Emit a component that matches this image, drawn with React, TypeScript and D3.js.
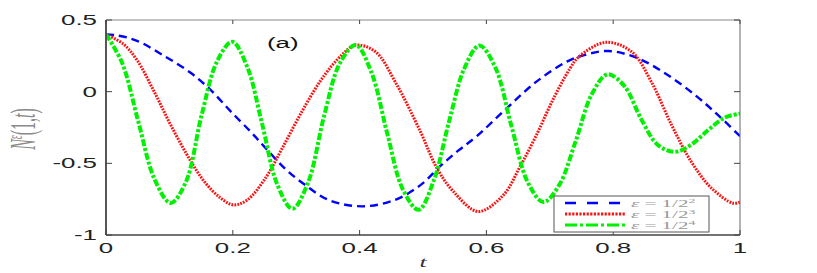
import React, { useRef, useEffect } from 'react';
import * as d3 from 'd3';

// values, as [t, N] pairs
const blueSeries: [number, number][] = [
  [0, 0.4], [0.018, 0.392], [0.049, 0.355], [0.0915, 0.25], [0.134, 0.13],
  [0.165, 0.012], [0.197, -0.139], [0.228, -0.279], [0.25, -0.385], [0.283, -0.54],
  [0.314, -0.65], [0.351, -0.755], [0.404, -0.8], [0.456, -0.755], [0.498, -0.645],
  [0.527, -0.52], [0.556, -0.41], [0.585, -0.31], [0.632, -0.116], [0.679, 0.07],
  [0.727, 0.21], [0.75, 0.25], [0.792, 0.284], [0.839, 0.233], [0.886, 0.116],
  [0.929, -0.023], [0.965, -0.162], [1.0, -0.31],
];

const redSeries: [number, number][] = [
  [0, 0.4], [0.028, 0.33], [0.049, 0.22], [0.076, 0.0], [0.102, -0.232],
  [0.1325, -0.476], [0.155, -0.627], [0.181, -0.743], [0.201, -0.79], [0.223, -0.755],
  [0.252, -0.6], [0.278, -0.394], [0.309, -0.139], [0.341, 0.093], [0.372, 0.256],
  [0.394, 0.325], [0.425, 0.279], [0.456, 0.07], [0.495, -0.27],
  [0.522, -0.534], [0.548, -0.697], [0.587, -0.836], [0.627, -0.72], [0.653, -0.523],
  [0.679, -0.302], [0.706, -0.046], [0.732, 0.163], [0.745, 0.24], [0.788, 0.344],
  [0.829, 0.279], [0.86, 0.07], [0.892, -0.232], [0.923, -0.488], [0.955, -0.673],
  [0.989, -0.778], [1.0, -0.77],
];

const greenSeries: [number, number][] = [
  [0, 0.4], [0.0255, 0.2], [0.051, -0.21], [0.0765, -0.61], [0.102, -0.776],
  [0.126, -0.63], [0.1505, -0.17], [0.175, 0.21], [0.199, 0.348],
  [0.223, 0.17], [0.2465, -0.23], [0.27, -0.646], [0.294, -0.817],
  [0.319, -0.63], [0.344, -0.17], [0.369, 0.2], [0.394, 0.325],
  [0.419, 0.13], [0.4435, -0.29], [0.468, -0.68], [0.493, -0.824],
  [0.517, -0.62], [0.541, -0.21], [0.565, 0.16], [0.589, 0.322],
  [0.614, 0.17], [0.6395, -0.24], [0.665, -0.63], [0.69, -0.77],
  [0.715, -0.65], [0.7405, -0.35], [0.766, -0.02], [0.791, 0.121],
  [0.8175, 0.04], [0.844, -0.19], [0.87, -0.37], [0.897, -0.42],
  [0.923, -0.37], [0.95, -0.267], [0.976, -0.181], [1.0, -0.153],
];

const xTicks = [0, 0.2, 0.4, 0.6, 0.8, 1];
const xTickLabels = ['0', '0.2', '0.4', '0.6', '0.8', '1'];
const yTicks = [0.5, 0, -0.5, -1];
const yTickLabels = ['0.5', '0', '-0.5', '-1'];
const legendExponents = ['2', '3', '4'];

const W = 817;
const H = 273;
const STRETCH = 1.85; // the source figure is stretched horizontally

const App = () => {
  const svgRef = useRef<SVGSVGElement>(null);

  useEffect(() => {
    if (!svgRef.current) return;
    const svg = d3.select(svgRef.current);
    svg.selectAll('*').remove();

    const left = 106, right = 740, top = 20, bottom = 235;
    const x = d3.scaleLinear().domain([0, 1]).range([left, right]);
    const y = d3.scaleLinear().domain([-1, 0.5]).range([bottom, top]);

    svg.append('rect').attr('width', W).attr('height', H).attr('fill', '#fff');

    const series = [
      { data: blueSeries, color: '#0000ff', width: 2.4, dash: '8,5', legendDash: '11,11' },
      { data: redSeries, color: '#ff1010', width: 3, dash: '1.8,1.2', legendDash: '2.2,1.4' },
      { data: greenSeries, color: '#00f000', width: 4, dash: '7,2,3,2', legendDash: '12,3,3,3' },
    ];

    const line = d3.line<[number, number]>()
      .x(d => x(d[0]))
      .y(d => y(d[1]))
      .curve(d3.curveCatmullRom.alpha(0.5));

    const plot = svg.append('g');
    plot.append('clipPath').attr('id', 'clip')
      .append('rect').attr('x', left).attr('y', top - 4)
      .attr('width', right - left).attr('height', bottom - top + 8);

    series.forEach(s => {
      plot.append('path')
        .attr('d', line(s.data) as string)
        .attr('fill', 'none')
        .attr('stroke', s.color)
        .attr('stroke-width', s.width)
        .attr('stroke-dasharray', s.dash)
        .attr('clip-path', 'url(#clip)');
    });

    // axes box
    const axis = svg.append('g').attr('stroke', '#444').attr('fill', 'none');
    axis.append('line').attr('x1', left).attr('x2', right).attr('y1', top).attr('y2', top).attr('stroke', '#888');
    axis.append('line').attr('x1', right).attr('x2', right).attr('y1', top).attr('y2', bottom).attr('stroke', '#666');
    axis.append('line').attr('x1', left).attr('x2', right).attr('y1', bottom).attr('y2', bottom).attr('stroke-width', 1.5);
    axis.append('line').attr('x1', left).attr('x2', left).attr('y1', top).attr('y2', bottom).attr('stroke-width', 1.8);

    xTicks.forEach(t => {
      axis.append('line').attr('x1', x(t)).attr('x2', x(t)).attr('y1', bottom).attr('y2', bottom - 5);
      axis.append('line').attr('x1', x(t)).attr('x2', x(t)).attr('y1', top).attr('y2', top + 4);
    });
    yTicks.forEach(t => {
      axis.append('line').attr('x1', left).attr('x2', left + 6).attr('y1', y(t)).attr('y2', y(t));
      axis.append('line').attr('x1', right).attr('x2', right - 6).attr('y1', y(t)).attr('y2', y(t));
    });

    const font = 'Liberation Sans, Arial, sans-serif';
    xTicks.forEach((t, i) => {
      svg.append('text')
        .attr('transform', `translate(${x(t)},253) scale(${STRETCH},1)`)
        .attr('text-anchor', 'middle')
        .style('font-family', font).style('font-size', '14px').attr('fill', '#222')
        .text(xTickLabels[i]);
    });
    yTicks.forEach((t, i) => {
      svg.append('text')
        .attr('transform', `translate(97,${y(t) + 5}) scale(${STRETCH},1)`)
        .attr('text-anchor', 'end')
        .style('font-family', font).style('font-size', '14px').attr('fill', '#222')
        .text(yTickLabels[i]);
    });

    // panel label
    svg.append('text')
      .attr('transform', `translate(267,48) scale(${STRETCH},1)`)
      .style('font-family', font).style('font-size', '14px').attr('fill', '#111')
      .text('(a)');

    // axis labels
    const serif = 'Liberation Serif, DejaVu Serif, serif';
    svg.append('text')
      .attr('transform', `translate(423,267) scale(${STRETCH},1)`)
      .attr('text-anchor', 'middle')
      .style('font-family', serif).style('font-style', 'italic').style('font-size', '14px')
      .attr('fill', '#333')
      .text('t');

    const yl = svg.append('text')
      .attr('transform', `translate(35,129) scale(2.2,1) rotate(-90)`)
      .attr('text-anchor', 'middle')
      .style('font-family', serif).style('font-size', '16px').attr('fill', '#8a8a8a');
    yl.append('tspan').style('font-style', 'italic').text('N');
    yl.append('tspan').style('font-style', 'italic').attr('dy', -6).style('font-size', '10px').text('ε');
    yl.append('tspan').attr('dy', 6).text('(1,');
    yl.append('tspan').style('font-style', 'italic').text('t');
    yl.append('tspan').text(')');

    // legend
    const lg = svg.append('g');
    lg.append('rect').attr('x', 554).attr('y', 196).attr('width', 155).attr('height', 36)
      .attr('fill', '#fff').attr('stroke', '#555').attr('stroke-width', 1);
    series.forEach((s, i) => {
      const ly = 203 + i * 11;
      lg.append('line').attr('x1', 565).attr('x2', 625).attr('y1', ly).attr('y2', ly)
        .attr('stroke', s.color).attr('stroke-width', Math.min(s.width, 3))
        .attr('stroke-dasharray', s.legendDash);
      const tx = lg.append('text')
        .attr('transform', `translate(631,${ly + 3.5}) scale(2.1,1)`)
        .style('font-family', serif).style('font-size', '10px').attr('fill', '#999');
      tx.append('tspan').style('font-style', 'italic').text('ε');
      tx.append('tspan').text(' = 1/2');
      tx.append('tspan').attr('dy', -4).style('font-size', '6.5px').text(legendExponents[i]);
    });
  }, []);

  return (
    <svg ref={svgRef} width={W} height={H} style={{ position: 'absolute', left: 0, top: 0 }} />
  );
};

export default App;
